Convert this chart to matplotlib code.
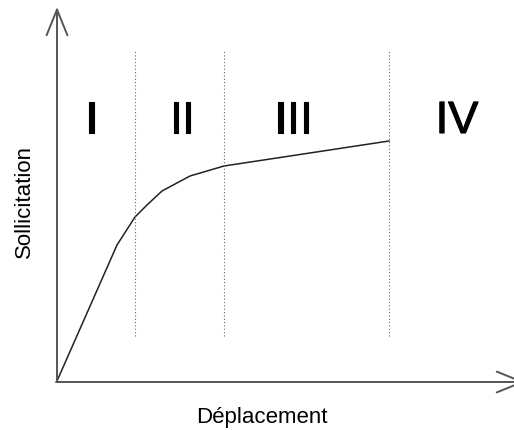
import matplotlib
matplotlib.use("Agg")
import matplotlib.pyplot as plt
import matplotlib.patheffects as pe

# Curve (displacement, load)
disp = [0, 60, 78, 90, 105, 133, 167, 332]
load = [0, 136, 164, 176, 190, 205, 215, 240]

# Region boundaries (dotted verticals) and their vertical extent
bounds = [78, 167, 332]
bound_lo, bound_hi = 45, 330

# Region labels and their horizontal positions
regions = ["I", "II", "III", "IV"]
region_x = [34.5, 125, 236, 400]
region_y = 259.5

fig = plt.figure(figsize=(5.14, 4.30), dpi=100)
ax = fig.add_axes([0, 0, 1, 1])
ax.set_xlim(-57, 457)
ax.set_ylim(-49, 381)
ax.axis("off")

axis_color = "#555555"
arrow_kw = dict(arrowstyle="->,head_length=1.85,head_width=0.75",
                color=axis_color, lw=1.4, mutation_scale=10,
                shrinkA=0, shrinkB=0)
ax.annotate("", xy=(0, 374), xytext=(0, -1), arrowprops=arrow_kw)
ax.annotate("", xy=(468, -1), xytext=(-1, -1), arrowprops=arrow_kw,
            annotation_clip=False)

ax.plot(disp, load, color="#222222", lw=1.1, solid_joinstyle="round")

for b in bounds:
    ax.plot([b, b], [bound_lo, bound_hi], color="#666666", lw=0.8,
            linestyle=(0, (1, 2)))

for lab, xv in zip(regions, region_x):
    ax.text(xv, region_y, lab, ha="center", va="center", fontsize=32.5,
            family="Liberation Sans", color="black",
            path_effects=[pe.withStroke(linewidth=0.8, foreground="black")])

fig.text(24 / 514, 1 - 201 / 430, "Sollicitation", rotation=90,
         ha="center", va="center", fontsize=16, family="Liberation Sans")
fig.text(262 / 514, 1 - 417 / 430, "Déplacement", ha="center",
         va="center", fontsize=16, family="Liberation Sans")

fig.savefig("out.png", dpi=100, facecolor="white")
